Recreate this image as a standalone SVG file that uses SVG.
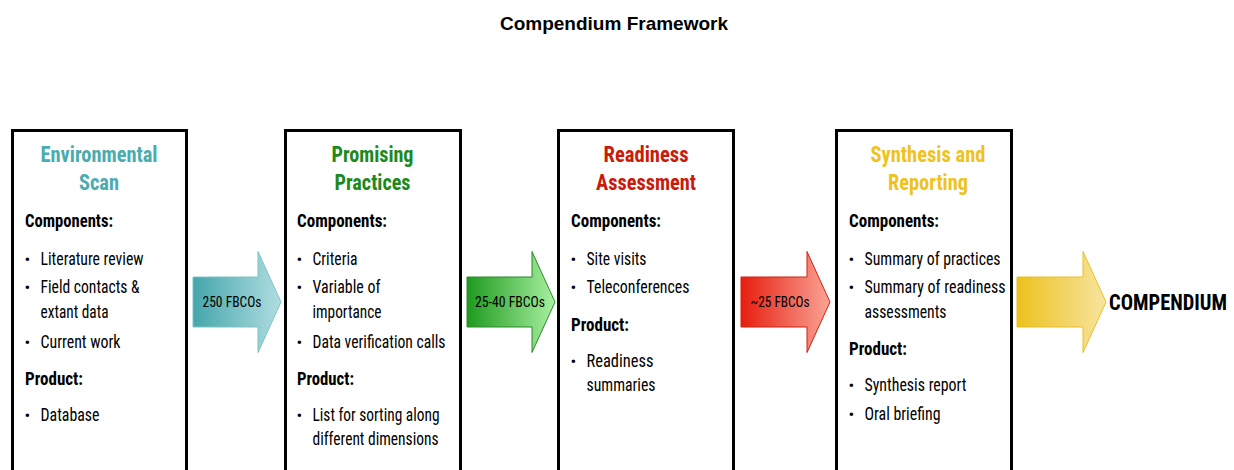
<svg xmlns="http://www.w3.org/2000/svg" width="1234" height="470" viewBox="0 0 1234 470">
<style>
.n{font-family:"Liberation Sans Narrow","Arial Narrow","Roboto Condensed","Liberation Sans",sans-serif;}
.box{fill:#fff;stroke:#000;stroke-width:3;}
.h{font-size:22px;font-weight:bold;text-anchor:middle;}
.sub{font-size:18px;font-weight:bold;fill:#000;}
.t{font-size:18px;fill:#000;}
.b{font-size:17px;fill:#000;}
.lab{font-size:14px;fill:#000;text-anchor:middle;}
.title{font-family:"Liberation Sans",Arial,sans-serif;font-size:19px;font-weight:bold;text-anchor:middle;}
</style>
<defs>
<linearGradient id="gT" x1="0" x2="1" y1="0" y2="0"><stop offset="0" stop-color="#45a6ab"/><stop offset="1" stop-color="#b0dde0"/></linearGradient>
<linearGradient id="gG" x1="0" x2="1" y1="0" y2="0"><stop offset="0" stop-color="#1e9a1e"/><stop offset="1" stop-color="#a8f0a0"/></linearGradient>
<linearGradient id="gR" x1="0" x2="1" y1="0" y2="0"><stop offset="0" stop-color="#e61e0f"/><stop offset="1" stop-color="#faa496"/></linearGradient>
<linearGradient id="gY" x1="0" x2="1" y1="0" y2="0"><stop offset="0" stop-color="#ecc21e"/><stop offset="1" stop-color="#f8e4a0"/></linearGradient>
</defs>
<text class="title" x="614" y="30">Compendium Framework</text>

<g id="node-env">
<rect class="box" x="12.5" y="130.5" width="174" height="345"/>
<text class="n h" fill="#4aabb0" x="99" y="162" textLength="117" lengthAdjust="spacingAndGlyphs">Environmental</text>
<text class="n h" fill="#4aabb0" x="99" y="190" textLength="40" lengthAdjust="spacingAndGlyphs">Scan</text>
<text class="n sub" x="25" y="227" textLength="88" lengthAdjust="spacingAndGlyphs">Components:</text>
<text class="n b" x="24.5" y="265">•</text><text class="n t" x="40.5" y="265" textLength="103" lengthAdjust="spacingAndGlyphs">Literature review</text>
<text class="n b" x="24.5" y="293">•</text><text class="n t" x="40.5" y="293" textLength="99" lengthAdjust="spacingAndGlyphs">Field contacts &amp;</text>
<text class="n t" x="40.5" y="318" textLength="68" lengthAdjust="spacingAndGlyphs">extant data</text>
<text class="n b" x="24.5" y="348">•</text><text class="n t" x="40.5" y="348" textLength="80" lengthAdjust="spacingAndGlyphs">Current work</text>
<text class="n sub" x="25" y="385" textLength="58" lengthAdjust="spacingAndGlyphs">Product:</text>
<text class="n b" x="24.5" y="421">•</text><text class="n t" x="40.5" y="421" textLength="59" lengthAdjust="spacingAndGlyphs">Database</text>
</g>

<g id="node-promising">
<rect class="box" x="285.5" y="130.5" width="175" height="345"/>
<text class="n h" fill="#1a8a1a" x="372.5" y="162" textLength="82" lengthAdjust="spacingAndGlyphs">Promising</text>
<text class="n h" fill="#1a8a1a" x="372.5" y="190" textLength="76" lengthAdjust="spacingAndGlyphs">Practices</text>
<text class="n sub" x="297" y="227" textLength="90" lengthAdjust="spacingAndGlyphs">Components:</text>
<text class="n b" x="296.5" y="265">•</text><text class="n t" x="312.5" y="265" textLength="45" lengthAdjust="spacingAndGlyphs">Criteria</text>
<text class="n b" x="296.5" y="293">•</text><text class="n t" x="312.5" y="293" textLength="68" lengthAdjust="spacingAndGlyphs">Variable of</text>
<text class="n t" x="312.5" y="318" textLength="69" lengthAdjust="spacingAndGlyphs">importance</text>
<text class="n b" x="296.5" y="348">•</text><text class="n t" x="312.5" y="348" textLength="133" lengthAdjust="spacingAndGlyphs">Data verification calls</text>
<text class="n sub" x="297" y="385" textLength="57" lengthAdjust="spacingAndGlyphs">Product:</text>
<text class="n b" x="296.5" y="421">•</text><text class="n t" x="312.5" y="421" textLength="127" lengthAdjust="spacingAndGlyphs">List for sorting along</text>
<text class="n t" x="312.5" y="445" textLength="126" lengthAdjust="spacingAndGlyphs">different dimensions</text>
</g>

<g id="node-readiness">
<rect class="box" x="558.5" y="130.5" width="175" height="345"/>
<text class="n h" fill="#cc1a0a" x="646" y="162" textLength="85" lengthAdjust="spacingAndGlyphs">Readiness</text>
<text class="n h" fill="#cc1a0a" x="646" y="190" textLength="100" lengthAdjust="spacingAndGlyphs">Assessment</text>
<text class="n sub" x="571" y="227" textLength="90" lengthAdjust="spacingAndGlyphs">Components:</text>
<text class="n b" x="570.5" y="265">•</text><text class="n t" x="586.5" y="265" textLength="60" lengthAdjust="spacingAndGlyphs">Site visits</text>
<text class="n b" x="570.5" y="293">•</text><text class="n t" x="586.5" y="293" textLength="103" lengthAdjust="spacingAndGlyphs">Teleconferences</text>
<text class="n sub" x="571" y="331" textLength="58" lengthAdjust="spacingAndGlyphs">Product:</text>
<text class="n b" x="570.5" y="367">•</text><text class="n t" x="586.5" y="367" textLength="67" lengthAdjust="spacingAndGlyphs">Readiness</text>
<text class="n t" x="586.5" y="391" textLength="69" lengthAdjust="spacingAndGlyphs">summaries</text>
</g>

<g id="node-synthesis">
<rect class="box" x="836.5" y="130.5" width="175" height="345"/>
<text class="n h" fill="#efc21c" x="928" y="162" textLength="115" lengthAdjust="spacingAndGlyphs">Synthesis and</text>
<text class="n h" fill="#efc21c" x="928" y="190" textLength="80" lengthAdjust="spacingAndGlyphs">Reporting</text>
<text class="n sub" x="849" y="227" textLength="90" lengthAdjust="spacingAndGlyphs">Components:</text>
<text class="n b" x="848.5" y="265">•</text><text class="n t" x="864.5" y="265" textLength="136" lengthAdjust="spacingAndGlyphs">Summary of practices</text>
<text class="n b" x="848.5" y="293">•</text><text class="n t" x="864.5" y="293" textLength="141" lengthAdjust="spacingAndGlyphs">Summary of readiness</text>
<text class="n t" x="864.5" y="318" textLength="82" lengthAdjust="spacingAndGlyphs">assessments</text>
<text class="n sub" x="849" y="355" textLength="58" lengthAdjust="spacingAndGlyphs">Product:</text>
<text class="n b" x="848.5" y="391">•</text><text class="n t" x="864.5" y="391" textLength="102" lengthAdjust="spacingAndGlyphs">Synthesis report</text>
<text class="n b" x="848.5" y="420">•</text><text class="n t" x="864.5" y="420" textLength="76" lengthAdjust="spacingAndGlyphs">Oral briefing</text>
</g>

<g id="node-compendium">
<text class="n" x="1109" y="310" font-size="22" font-weight="bold" fill="#000" textLength="118" lengthAdjust="spacingAndGlyphs">COMPENDIUM</text>
</g>

<g id="connectors">
<path d="M193,277 H258 V251.5 L281,302 L258,352.5 V327 H193 Z" fill="url(#gT)" stroke="#7cc3c6" stroke-width="1"/>
<text class="n lab" x="232" y="307" textLength="59" lengthAdjust="spacingAndGlyphs">250 FBCOs</text>
<path d="M467,277 H532 V251.5 L555,302 L532,352.5 V327 H467 Z" fill="url(#gG)" stroke="#2a8a2a" stroke-width="1"/>
<text class="n lab" x="510" y="307" textLength="70" lengthAdjust="spacingAndGlyphs">25-40 FBCOs</text>
<path d="M741,277 H807 V251.5 L830,302 L807,352.5 V327 H741 Z" fill="url(#gR)" stroke="#d02010" stroke-width="1"/>
<text class="n lab" x="780" y="307" textLength="59" lengthAdjust="spacingAndGlyphs">~25 FBCOs</text>
<path d="M1017,277 H1083 V251.5 L1106,302 L1083,352.5 V327 H1017 Z" fill="url(#gY)" stroke="#e8c020" stroke-width="1"/>
</g>
</svg>
